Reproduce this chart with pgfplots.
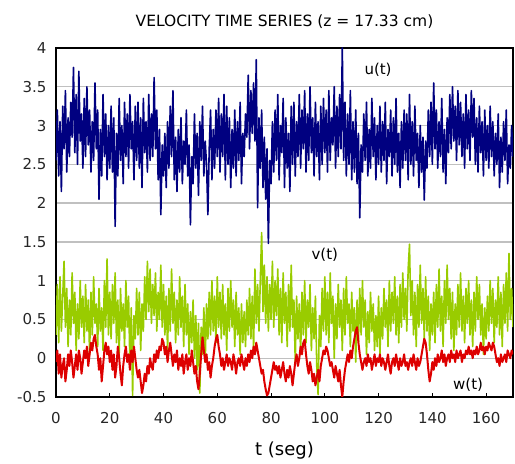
\documentclass[border=0pt]{standalone}
\usepackage{fontspec}
\setmainfont{DejaVu Sans}
\usepackage{pgfplots}
\pgfplotsset{compat=1.18}
\usepackage{pgfplotstable}
\usetikzlibrary{calc}

\definecolor{uline}{RGB}{0,0,128}
\definecolor{vline}{RGB}{153,204,0}
\definecolor{wline}{RGB}{221,0,0}
\definecolor{gridc}{RGB}{192,192,192}

\pgfplotstableread{
t u v w
0 2.55 0.30 -0.05
0.5 3.20 0.95 0.10
1 2.35 0.20 -0.20
1.5 3.05 1.05 0.05
2 2.15 0.35 -0.25
2.5 3.25 0.80 -0.10
3 2.70 1.25 0.00
3.5 3.45 0.40 -0.30
4 2.40 0.90 -0.15
4.5 3.10 0.15 0.05
5 2.60 0.75 -0.10
5.5 3.30 0.30 0.10
6 2.85 1.10 -0.05
6.5 3.75 0.45 -0.25
7 2.65 0.85 -0.10
7.5 3.40 0.10 0.05
8 2.50 0.70 -0.15
8.5 3.70 0.25 0.10
9 2.80 1.00 0.00
9.5 3.15 0.40 -0.20
10 2.45 0.80 -0.05
10.5 3.35 0.20 0.10
11 2.60 0.95 0.00
11.5 3.50 0.35 0.15
12 2.75 0.75 -0.10
12.5 3.20 0.05 0.05
13 2.40 0.85 0.20
13.5 3.05 0.30 0.10
14 2.55 1.05 0.25
14.5 3.55 0.45 0.30
15 2.70 0.70 0.15
15.5 3.20 0.15 0.05
16 2.05 0.90 -0.15
16.5 2.95 0.35 0.00
17 2.35 0.65 -0.30
17.5 3.40 0.10 -0.10
18 2.60 1.00 0.10
18.5 3.15 0.40 0.20
19 2.30 1.28 0.05
19.5 3.00 0.30 0.15
20 2.45 0.85 -0.05
20.5 3.25 0.25 0.10
21 2.40 0.95 -0.15
21.5 3.10 0.45 0.05
22 1.70 1.10 -0.25
22.5 2.90 0.20 -0.10
23 2.35 0.75 0.15
23.5 3.35 0.05 0.00
24 2.55 0.90 -0.20
24.5 3.00 0.35 -0.35
25 2.25 0.70 -0.10
25.5 3.30 0.15 0.05
26 2.60 1.00 0.15
26.5 3.15 0.40 -0.05
27 2.45 0.80 0.05
27.5 3.40 -0.10 -0.15
28 2.70 0.65 0.10
28.5 3.05 -0.48 -0.05
29 2.30 0.55 0.15
29.5 3.25 0.25 0.00
30 2.55 0.90 -0.15
30.5 3.30 0.30 -0.25
31 2.45 0.85 -0.15
31.5 3.10 0.10 -0.30
32 2.20 0.70 -0.45
32.5 3.35 0.35 -0.35
33 2.65 1.05 -0.20
33.5 3.05 0.50 -0.30
34 2.40 1.25 -0.10
34.5 3.40 0.60 -0.20
35 2.55 1.15 0.00
35.5 3.15 0.45 -0.10
36 2.60 0.95 -0.15
36.5 3.62 0.55 0.05
37 2.70 1.10 -0.05
37.5 3.20 0.35 0.10
38 2.30 0.85 0.00
38.5 2.95 0.50 0.15
39 1.85 1.20 0.10
39.5 2.75 0.40 0.25
40 2.35 0.95 0.20
40.5 2.90 0.30 0.05
41 2.20 0.80 0.15
41.5 3.05 0.10 -0.05
42 2.45 0.90 0.10
42.5 3.25 0.35 0.20
43 2.60 1.15 0.05
43.5 3.45 0.45 -0.10
44 2.30 0.85 0.05
44.5 2.85 0.20 -0.05
45 2.15 0.75 0.10
45.5 2.95 0.30 -0.15
46 2.40 1.05 0.00
46.5 3.10 0.40 -0.10
47 2.25 0.80 0.05
47.5 2.80 0.15 -0.20
48 2.50 0.95 -0.05
48.5 3.20 0.30 0.05
49 2.35 0.70 -0.15
49.5 2.75 0.05 0.00
50 1.72 0.60 -0.10
50.5 2.60 0.20 0.10
51 2.25 0.75 -0.05
51.5 3.15 0.00 -0.20
52 2.45 0.55 -0.10
52.5 2.90 -0.15 -0.30
53 2.10 0.45 -0.40
53.5 3.05 -0.45 -0.20
54 2.55 0.40 0.05
54.5 3.25 0.05 0.27
55 2.35 0.65 0.10
55.5 2.80 -0.05 -0.05
56 2.50 0.70 0.05
56.5 1.85 0.25 -0.15
57 2.70 0.85 -0.05
57.5 3.20 0.30 -0.25
58 2.30 1.00 -0.10
58.5 2.95 0.35 0.00
59 2.45 0.80 0.15
59.5 3.20 0.20 0.25
60 2.60 1.05 0.30
60.5 3.35 0.40 0.15
61 2.40 0.85 0.05
61.5 3.15 0.25 -0.10
62 2.60 0.95 0.00
62.5 3.40 0.30 -0.15
63 2.30 0.70 -0.05
63.5 3.25 0.10 0.05
64 2.50 0.90 -0.10
64.5 3.10 0.35 0.00
65 2.20 1.00 -0.05
65.5 2.95 0.40 -0.15
66 2.45 0.75 0.05
66.5 3.20 0.15 -0.05
67 2.35 0.85 -0.20
67.5 3.05 0.30 -0.05
68 2.55 0.65 0.00
68.5 3.30 0.05 -0.10
69 2.25 0.70 0.05
69.5 2.90 0.20 -0.05
70 2.60 0.60 -0.15
70.5 3.15 0.15 0.00
71 2.85 0.75 -0.10
71.5 3.65 0.30 0.05
72 2.70 0.90 -0.05
72.5 3.45 0.25 0.10
73 2.90 0.80 0.00
73.5 3.55 0.10 0.15
74 2.80 1.15 0.05
74.5 3.85 0.45 0.20
75 1.94 0.95 0.10
75.5 3.10 0.35 0.00
76 2.45 1.00 -0.10
76.5 3.20 1.62 -0.20
77 2.20 0.60 -0.15
77.5 2.85 1.20 -0.30
78 2.05 0.45 -0.40
78.5 2.70 1.05 -0.48
79 1.48 0.35 -0.45
79.5 2.55 0.95 -0.35
80 2.25 0.50 -0.25
80.5 3.05 1.25 -0.15
81 2.40 0.40 -0.05
81.5 3.20 1.00 -0.15
82 2.55 0.55 -0.10
82.5 3.40 1.15 -0.20
83 2.30 0.30 -0.10
83.5 3.00 0.90 -0.25
84 2.65 0.20 -0.15
84.5 3.35 1.10 -0.05
85 2.20 0.45 -0.20
85.5 3.10 0.85 -0.30
86 2.45 0.15 -0.15
86.5 2.90 0.95 -0.25
87 2.15 0.35 -0.10
87.5 3.25 1.20 -0.20
88 2.50 0.40 -0.35
88.5 3.30 0.75 -0.20
89 2.35 -0.05 -0.05
89.5 3.05 0.80 0.05
90 2.60 0.25 -0.10
90.5 3.40 0.70 0.00
91 2.45 0.05 0.15
91.5 3.20 0.85 0.05
92 2.70 0.30 0.20
92.5 3.45 1.00 0.24
93 2.40 0.20 0.05
93.5 3.15 0.75 -0.10
94 2.55 0.40 -0.20
94.5 3.50 0.95 -0.05
95 2.65 0.10 -0.15
95.5 3.10 0.65 -0.30
96 2.35 0.25 -0.20
96.5 3.30 0.80 -0.35
97 2.60 -0.10 -0.25
97.5 3.05 -0.47 -0.15
98 2.30 0.55 -0.30
98.5 3.25 0.15 -0.10
99 2.50 0.90 0.00
99.5 3.35 0.35 0.10
100 2.65 1.05 0.05
100.5 3.20 0.30 0.15
101 2.40 0.85 0.10
101.5 3.45 0.20 0.00
102 2.55 1.10 -0.10
102.5 3.10 0.45 -0.05
103 2.75 0.80 -0.15
103.5 3.50 0.00 -0.25
104 2.45 0.70 -0.10
104.5 3.25 0.25 -0.20
105 2.60 0.95 -0.30
105.5 3.40 0.40 -0.15
106 2.70 0.75 -0.35
106.5 4.00 0.10 -0.50
107 2.55 0.90 -0.30
107.5 3.30 0.30 -0.15
108 2.35 1.05 -0.05
108.5 3.15 0.45 0.05
109 2.50 0.70 -0.05
109.5 3.45 0.15 0.10
110 2.30 0.85 0.00
110.5 3.05 0.35 0.15
111 2.40 0.65 0.25
111.5 3.20 -0.05 0.35
112 2.25 0.75 0.40
112.5 2.90 0.20 0.20
113 1.81 0.90 0.05
113.5 2.75 0.30 -0.05
114 2.40 1.00 -0.15
114.5 3.15 0.40 -0.05
115 2.55 0.75 0.00
115.5 3.30 0.05 -0.10
116 2.35 0.60 0.05
116.5 2.95 0.20 -0.05
117 2.45 0.85 0.00
117.5 3.35 0.35 -0.15
118 2.60 0.70 -0.05
118.5 3.10 0.10 0.05
119 2.30 0.55 -0.10
119.5 3.00 0.15 0.00
120 2.50 0.80 -0.05
120.5 3.25 0.05 0.05
121 2.40 0.65 -0.10
121.5 3.05 0.25 0.00
122 2.55 0.90 -0.05
122.5 3.30 0.40 -0.15
123 2.25 0.75 -0.05
123.5 2.95 0.15 0.05
124 2.60 1.00 -0.10
124.5 3.20 0.35 -0.20
125 2.35 0.85 -0.05
125.5 3.10 0.45 0.00
126 2.50 1.05 -0.10
126.5 3.35 0.30 0.05
127 2.40 0.80 -0.05
127.5 2.90 0.20 -0.15
128 2.20 0.95 0.00
128.5 3.05 0.40 -0.10
129 2.45 1.10 -0.05
129.5 3.20 0.50 0.05
130 2.55 0.90 -0.10
130.5 3.15 0.35 -0.05
131 2.30 1.15 -0.15
131.5 3.40 1.47 -0.05
132 2.50 0.55 0.00
132.5 3.05 1.00 -0.10
133 2.35 0.30 0.05
133.5 3.25 0.85 -0.05
134 2.55 0.15 -0.15
134.5 2.90 0.95 0.00
135 2.20 0.40 -0.10
135.5 3.00 1.20 -0.05
136 2.40 0.45 0.05
136.5 2.85 0.90 0.15
137 2.04 0.25 0.25
137.5 2.80 1.05 0.20
138 2.45 0.35 0.05
138.5 3.20 0.80 -0.15
139 2.60 0.10 -0.30
139.5 3.30 0.70 -0.20
140 2.50 0.30 -0.05
140.5 3.55 0.85 -0.15
141 2.70 0.20 0.00
141.5 3.20 0.95 -0.10
142 2.45 0.40 0.05
142.5 3.05 1.15 -0.05
143 2.60 0.35 0.00
143.5 3.35 0.80 0.10
144 2.40 0.15 -0.05
144.5 2.95 1.00 0.05
145 2.25 0.45 -0.10
145.5 3.10 1.20 0.00
146 2.65 0.50 0.05
146.5 3.40 0.90 -0.05
147 2.70 0.25 0.10
147.5 3.50 0.85 0.00
148 2.80 0.10 0.05
148.5 3.25 0.70 -0.05
149 2.55 0.30 0.10
149.5 3.45 0.95 0.00
150 2.75 0.40 0.05
150.5 3.30 1.10 0.10
151 2.60 0.35 -0.05
151.5 3.15 0.80 0.05
152 2.45 0.20 0.00
152.5 3.40 0.90 0.10
153 2.70 0.45 0.05
153.5 3.20 1.00 0.15
154 2.55 0.30 0.05
154.5 3.45 0.75 0.10
155 2.85 0.15 0.00
155.5 3.35 0.85 0.10
156 2.50 0.35 0.05
156.5 3.10 1.05 0.15
157 2.40 0.50 0.05
157.5 3.25 0.95 0.10
158 2.65 0.30 0.20
158.5 3.05 0.70 0.10
159 2.35 0.05 0.15
159.5 3.20 0.65 0.05
160 2.55 0.25 0.15
160.5 3.00 0.80 0.10
161 2.45 0.35 0.20
161.5 3.25 1.00 0.15
162 2.60 0.45 0.10
162.5 3.05 0.90 0.20
163 2.35 0.20 0.15
163.5 2.90 0.75 0.05
164 2.50 0.40 -0.05
164.5 3.15 1.05 0.00
165 2.20 0.30 -0.10
165.5 2.85 0.85 0.05
166 2.40 0.15 -0.05
166.5 3.05 0.95 0.00
167 2.55 0.45 0.05
167.5 3.20 1.10 -0.05
168 2.25 0.35 0.10
168.5 2.75 1.35 0.05
169 2.45 0.50 0.00
169.5 3.00 0.90 0.10
170 2.60 0.40 0.05
}\velo

\begin{document}
\begin{tikzpicture}
\begin{axis}[
  width=457pt, height=349pt, scale only axis,
  xmin=0, xmax=170, ymin=-0.5, ymax=4,
  xtick={0,20,...,160}, ytick={-0.5,0,0.5,1,1.5,2,2.5,3,3.5,4},
  ymajorgrids, grid style={gridc, line width=1.3pt},
  xtick pos=bottom, tick align=inside, major tick length=4pt,
  ytick style={draw=none}, xtick style={black, line width=0.8pt},
  axis line style={black, line width=1.2pt},
  /pgf/number format/assume math mode=true,
  tick label style={font=\fontsize{15}{17}\selectfont, text=black!85},
  yticklabel style={xshift=-6pt},
  xticklabel style={yshift=-12pt},
  title={VELOCITY TIME SERIES (z = 17.33 cm)},
  title style={at={(axis description cs:0.5,1)}, anchor=south, yshift=10pt, font=\fontsize{15.5}{18}\selectfont},
  xlabel={t (seg)},
  xlabel style={at={(axis description cs:0.5,0)}, anchor=north, yshift=-41pt, font=\fontsize{18}{21}\selectfont},
]
\addplot[uline, line width=1.6pt, line join=round] table[x=t, y=u] {\velo};
\addplot[vline, line width=1.6pt, line join=round] table[x=t, y=v] {\velo};
\addplot[wline, line width=2pt, line join=round] table[x=t, y=w] {\velo};
\node[font=\fontsize{15}{17}\selectfont] at (axis cs:119.8,3.72) {u(t)};
\node[font=\fontsize{15}{17}\selectfont] at (axis cs:100,1.33) {v(t)};
\node[font=\fontsize{15}{17}\selectfont] at (axis cs:153.3,-0.34) {w(t)};
\end{axis}
\pgfresetboundingbox
\path ($(current axis.south west)+(-56pt,-67pt)$) rectangle ($(current axis.north east)+(2pt,48pt)$);
\end{tikzpicture}
\end{document}
